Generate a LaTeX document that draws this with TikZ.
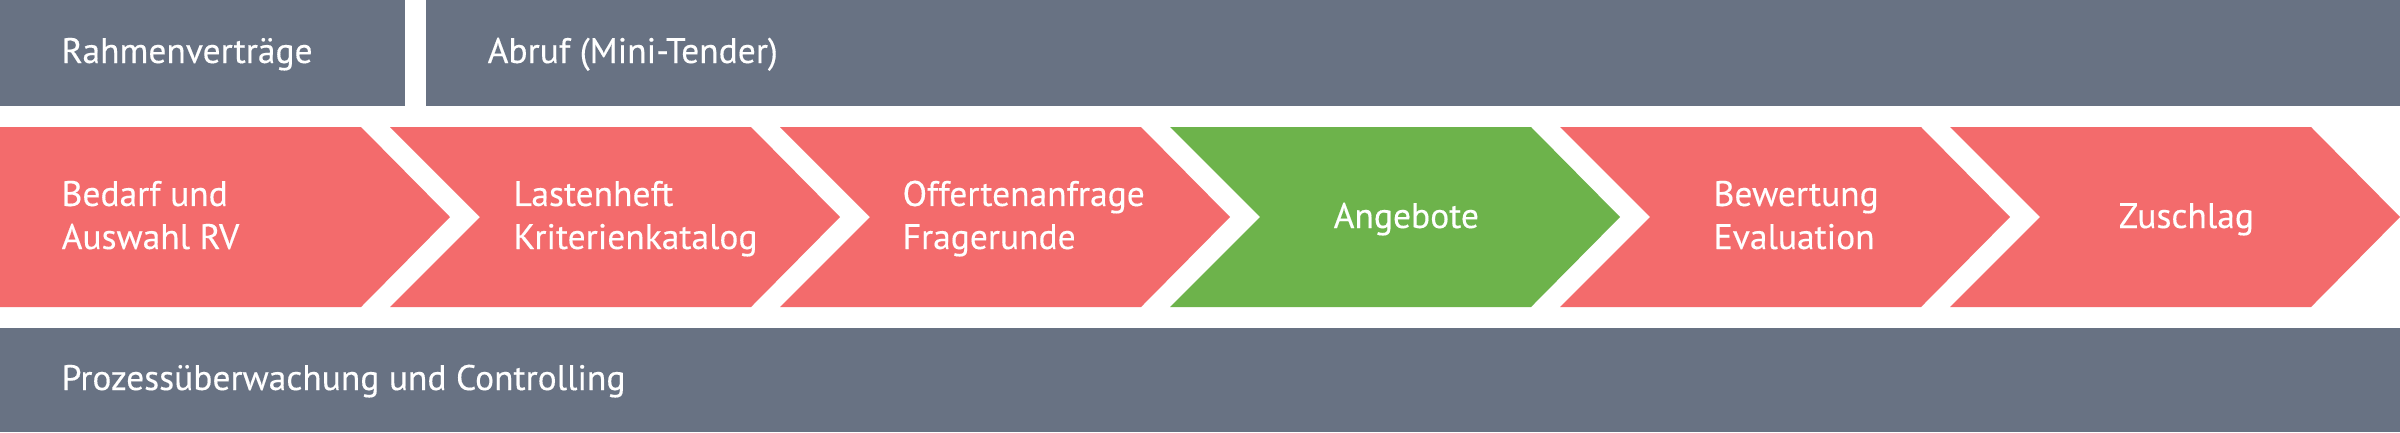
\documentclass[tikz,border=0pt]{standalone}
\usepackage{fontspec}
\setmainfont[FakeBold=0.3]{PT Sans}
\usetikzlibrary{positioning}
\definecolor{barGray}{RGB}{104,114,131}
\definecolor{phaseRed}{RGB}{243,107,108}
\definecolor{phaseGreen}{RGB}{109,179,75}
\tikzset{
  bar/.style={fill=barGray},
  phase/.style={fill=phaseRed},
  label/.style={text=white, inner sep=0pt, anchor=base west, align=left,
    font=\fontsize{10.1pt}{12.24pt}\selectfont}
}

\begin{document}
\begin{tikzpicture}[x=0.01cm, y=-0.01cm]
                \useasboundingbox (0,0) rectangle (2400,432);
                % bars
                \fill[bar] (0,0) rectangle (405,106);
                \fill[bar] (426,0) rectangle (2400,106);
                \fill[bar] (0,328) rectangle (2400,432);
                % phases
                \fill[phase] (0,127) -- (361,127) -- (450,217) -- (361,307) -- (0,307) -- cycle;
                \fill[phase] (390,127) -- (751,127) -- (840,217) -- (751,307) -- (390,307) -- (480,217) -- cycle;
                \fill[phase] (780,127) -- (1141,127) -- (1230,217) -- (1141,307) -- (780,307) -- (870,217) -- cycle;
                \fill[phase, fill=phaseGreen] (1170,127) -- (1531,127) -- (1620,217) -- (1531,307) -- (1170,307) -- (1260,217) -- cycle;
                \fill[phase] (1560,127) -- (1921,127) -- (2010,217) -- (1921,307) -- (1560,307) -- (1650,217) -- cycle;
                \fill[phase] (1950,127) -- (2311,127) -- (2400,217) -- (2311,307) -- (1950,307) -- (2040,217) -- cycle;
                % labels (base = last line)
                \node[label] (rv) at (61,63) {Rahmenverträge};
                \node[label] (abruf) at (487,63) {Abruf (Mini-Tender)};
                \node[label] (bedarf) at (61,249) {Bedarf und\\Auswahl RV};
                \node[label] (lasten) at (513,249) {Lastenheft\\Kriterienkatalog};
                \node[label] (offerten) at (902,249) {Offertenanfrage\\Fragerunde};
                \node[label] (angebote) at (1333,228) {Angebote};
                \node[label] (bewertung) at (1713,249) {Bewertung\\Evaluation};
                \node[label] (zuschlag) at (2118,228) {Zuschlag};
                \node[label] (controlling) at (61,390) {Prozessüberwachung und Controlling};
            \end{tikzpicture}
\end{document}
